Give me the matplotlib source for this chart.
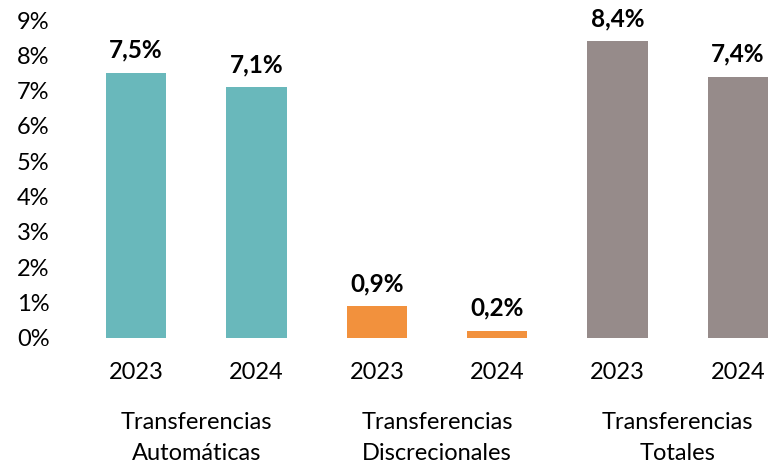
import matplotlib.pyplot as plt
import matplotlib.transforms as mtransforms
import numpy as np

# data
years = ['2023', '2024', '2023', '2024', '2023', '2024']
values = [7.5, 7.1, 0.9, 0.2, 8.4, 7.4]
value_labels = ['7,5%', '7,1%', '0,9%', '0,2%', '8,4%', '7,4%']
groups = ['Transferencias\nAutomáticas', 'Transferencias\nDiscrecionales', 'Transferencias\nTotales']
group_colors = ['#69B8BB', '#F2913D', '#968B8A']

plt.rcParams['font.family'] = ['Lato', 'DejaVu Sans']

fig = plt.figure(figsize=(7.68, 4.68), dpi=100)
ax = fig.add_axes([76 / 768, 130 / 468, 692 / 768, 318 / 468])

x = np.arange(len(values))
colors = [group_colors[i // 2] for i in range(len(values))]
bars = ax.bar(x, values, width=0.5, color=colors)

for bar, lab in zip(bars, value_labels):
    ax.annotate(lab, xy=(bar.get_x() + bar.get_width() / 2, bar.get_height()),
                xytext=(0, 8), textcoords='offset points',
                ha='center', va='bottom', fontsize=17.5, fontweight='bold')

ax.set_xlim(-0.5, 5.25)
ax.set_ylim(0, 9)
ax.set_yticks(range(0, 10))
ax.set_yticklabels([f'{v}%' for v in range(0, 10)], fontsize=17)
ax.set_xticks(x)
ax.set_xticklabels(years, fontsize=17)
ax.tick_params(axis='both', length=0)
ax.tick_params(axis='x', pad=17)
ax.tick_params(axis='y', pad=19)
for s in ax.spines.values():
    s.set_visible(False)

# group labels under the year labels
trans = mtransforms.blended_transform_factory(ax.transData, fig.transFigure)
for i, g in enumerate(groups):
    ax.text(2 * i + 0.5, (468 - 438) / 468, g, transform=trans,
            ha='center', va='center', fontsize=17, linespacing=1.6)

fig.savefig('out.png', dpi=100)
